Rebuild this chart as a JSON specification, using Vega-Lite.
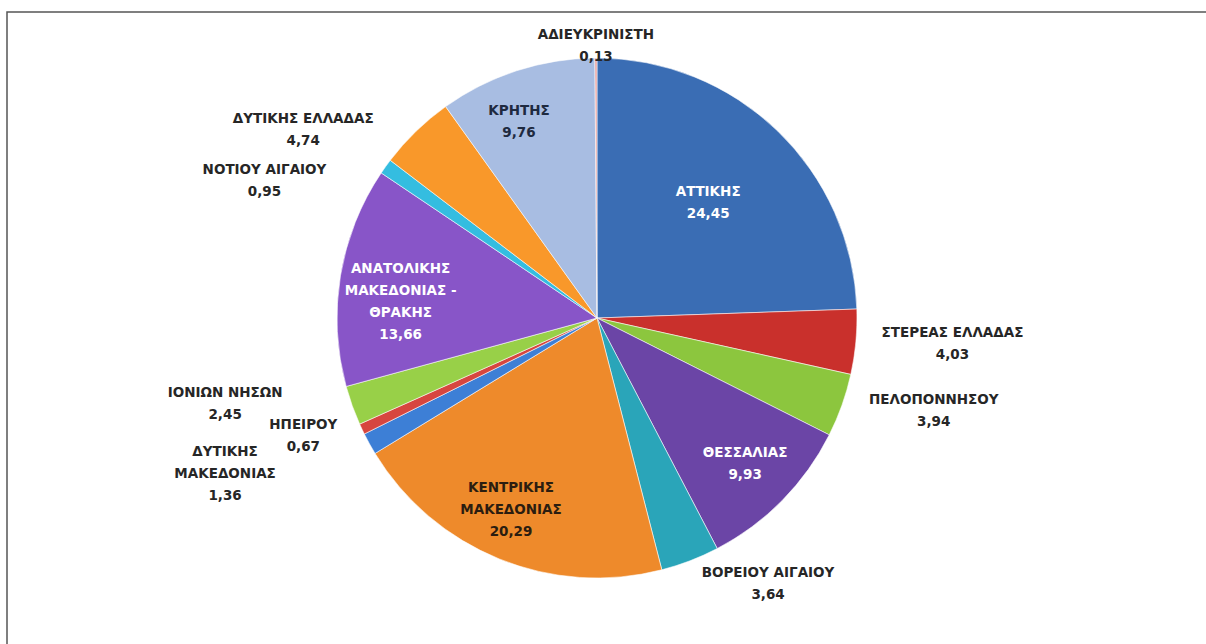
{
  "$schema": "https://vega.github.io/schema/vega-lite/v6.json",
  "autosize": "none",
  "width": 1180,
  "height": 612,
  "padding": {"left": 7, "top": 12, "right": 19, "bottom": 20},
  "background": "#ffffff",
  "config": {"view": {"stroke": null}, "text": {"font": "DejaVu Sans", "fontWeight": "bold", "fontSize": 13.5, "lineHeight": 22, "lineBreak": "\n", "align": "center", "baseline": "middle", "color": "#262626"}},
  "data": {
    "values": [
      {"order": 1, "region": "ΑΤΤΙΚΗΣ", "value": 24.45},
      {"order": 2, "region": "ΣΤΕΡΕΑΣ ΕΛΛΑΔΑΣ", "value": 4.03},
      {"order": 3, "region": "ΠΕΛΟΠΟΝΝΗΣΟΥ", "value": 3.94},
      {"order": 4, "region": "ΘΕΣΣΑΛΙΑΣ", "value": 9.93},
      {"order": 5, "region": "ΒΟΡΕΙΟΥ ΑΙΓΑΙΟΥ", "value": 3.64},
      {"order": 6, "region": "ΚΕΝΤΡΙΚΗΣ\nΜΑΚΕΔΟΝΙΑΣ", "value": 20.29},
      {"order": 7, "region": "ΔΥΤΙΚΗΣ\nΜΑΚΕΔΟΝΙΑΣ", "value": 1.36},
      {"order": 8, "region": "ΗΠΕΙΡΟΥ", "value": 0.67},
      {"order": 9, "region": "ΙΟΝΙΩΝ ΝΗΣΩΝ", "value": 2.45},
      {"order": 10, "region": "ΑΝΑΤΟΛΙΚΗΣ\nΜΑΚΕΔΟΝΙΑΣ -\nΘΡΑΚΗΣ", "value": 13.66},
      {"order": 11, "region": "ΝΟΤΙΟΥ ΑΙΓΑΙΟΥ", "value": 0.95},
      {"order": 12, "region": "ΔΥΤΙΚΗΣ ΕΛΛΑΔΑΣ", "value": 4.74},
      {"order": 13, "region": "ΚΡΗΤΗΣ", "value": 9.76},
      {"order": 14, "region": "ΑΔΙΕΥΚΡΙΝΙΣΤΗ", "value": 0.13}
    ]
  },
  "transform": [
    {"window": [{"op": "sum", "field": "value", "as": "cum"}], "sort": [{"field": "order", "order": "ascending"}], "frame": [null, 0]},
    {"calculate": "datum.cum - datum.value / 2", "as": "mid"},
    {"calculate": "datum.region + '\\n' + replace(format(datum.value, '.2f'), '.', ',')", "as": "label"}
  ],
  "layer": [
    {
      "data": {"values": [{"frame": "border"}]},
      "mark": {"type": "rect", "fill": null, "stroke": "#555555", "strokeWidth": 1.5},
      "encoding": {
        "x": {"value": 0}, "x2": {"value": {"expr": "width + 60"}},
        "y": {"value": 0}, "y2": {"value": {"expr": "height + 60"}}
      }
    },
    {
      "mark": {"type": "arc", "outerRadius": 260, "stroke": "#ffffff", "strokeWidth": 0.8, "strokeOpacity": 0.7},
      "encoding": {
        "theta": {"field": "value", "type": "quantitative", "stack": true, "scale": {"domain": [0, 100]}},
        "order": {"field": "order", "type": "quantitative", "sort": "ascending"},
        "color": {
          "field": "order", "type": "ordinal", "legend": null,
          "scale": {
            "domain": [1,2,3,4,5,6,7,8,9,10,11,12,13,14],
            "range": ["#3a6db4", "#c9302c", "#8cc63e", "#6b45a6", "#2aa5b9", "#ee8a2b", "#3d7fd6", "#d7463f", "#98d048", "#8855c8", "#34bde0", "#f9982a", "#a8bde2", "#e8a09e"]
          }
        }
      }
    },
    {"transform": [{"filter": "datum.order == 1"}], "mark": {"type": "text", "radius": 160, "dy": -11, "color": "#ffffff"}, "encoding": {"theta": {"field": "mid", "type": "quantitative", "scale": {"domain": [0, 100]}}, "text": {"field": "label"}}},
    {"transform": [{"filter": "datum.order == 4"}], "mark": {"type": "text", "radius": 208, "dy": -11, "color": "#ffffff"}, "encoding": {"theta": {"field": "mid", "type": "quantitative", "scale": {"domain": [0, 100]}}, "text": {"field": "label"}}},
    {"transform": [{"filter": "datum.order == 10"}], "mark": {"type": "text", "radius": 196, "dx": -3, "dy": -17, "color": "#ffffff"}, "encoding": {"theta": {"field": "mid", "type": "quantitative", "scale": {"domain": [0, 100]}}, "text": {"field": "label"}}},
    {"transform": [{"filter": "datum.order == 6"}], "mark": {"type": "text", "radius": 210, "dx": -7, "dy": -25, "color": "#2b1d10"}, "encoding": {"theta": {"field": "mid", "type": "quantitative", "scale": {"domain": [0, 100]}}, "text": {"field": "label"}}},
    {"transform": [{"filter": "datum.order == 13"}], "mark": {"type": "text", "radius": 210, "dx": -13, "dy": -7, "color": "#1e2a40"}, "encoding": {"theta": {"field": "mid", "type": "quantitative", "scale": {"domain": [0, 100]}}, "text": {"field": "label"}}},
    {"transform": [{"filter": "datum.order == 14"}], "mark": {"type": "text", "radius": 272, "dy": -11}, "encoding": {"theta": {"field": "mid", "type": "quantitative", "scale": {"domain": [0, 100]}}, "text": {"field": "label"}}},
    {"transform": [{"filter": "datum.order == 2"}], "mark": {"type": "text", "radius": 357, "dy": -18}, "encoding": {"theta": {"field": "mid", "type": "quantitative", "scale": {"domain": [0, 100]}}, "text": {"field": "label"}}},
    {"transform": [{"filter": "datum.order == 3"}], "mark": {"type": "text", "radius": 349, "dx": 8, "dy": -35}, "encoding": {"theta": {"field": "mid", "type": "quantitative", "scale": {"domain": [0, 100]}}, "text": {"field": "label"}}},
    {"transform": [{"filter": "datum.order == 5"}], "mark": {"type": "text", "radius": 310, "dx": 60, "dy": -34}, "encoding": {"theta": {"field": "mid", "type": "quantitative", "scale": {"domain": [0, 100]}}, "text": {"field": "label"}}},
    {"transform": [{"filter": "datum.order == 7"}], "mark": {"type": "text", "radius": 401, "dx": -21, "dy": -60}, "encoding": {"theta": {"field": "mid", "type": "quantitative", "scale": {"domain": [0, 100]}}, "text": {"field": "label"}}},
    {"transform": [{"filter": "datum.order == 8"}], "mark": {"type": "text", "radius": 316, "dx": -8, "dy": -28}, "encoding": {"theta": {"field": "mid", "type": "quantitative", "scale": {"domain": [0, 100]}}, "text": {"field": "label"}}},
    {"transform": [{"filter": "datum.order == 9"}], "mark": {"type": "text", "radius": 379, "dx": -15, "dy": -53}, "encoding": {"theta": {"field": "mid", "type": "quantitative", "scale": {"domain": [0, 100]}}, "text": {"field": "label"}}},
    {"transform": [{"filter": "datum.order == 11"}], "mark": {"type": "text", "radius": 350, "dx": -48, "dy": 56}, "encoding": {"theta": {"field": "mid", "type": "quantitative", "scale": {"domain": [0, 100]}}, "text": {"field": "label"}}},
    {"transform": [{"filter": "datum.order == 12"}], "mark": {"type": "text", "radius": 340, "dx": -57, "dy": 45}, "encoding": {"theta": {"field": "mid", "type": "quantitative", "scale": {"domain": [0, 100]}}, "text": {"field": "label"}}}
  ]
}
